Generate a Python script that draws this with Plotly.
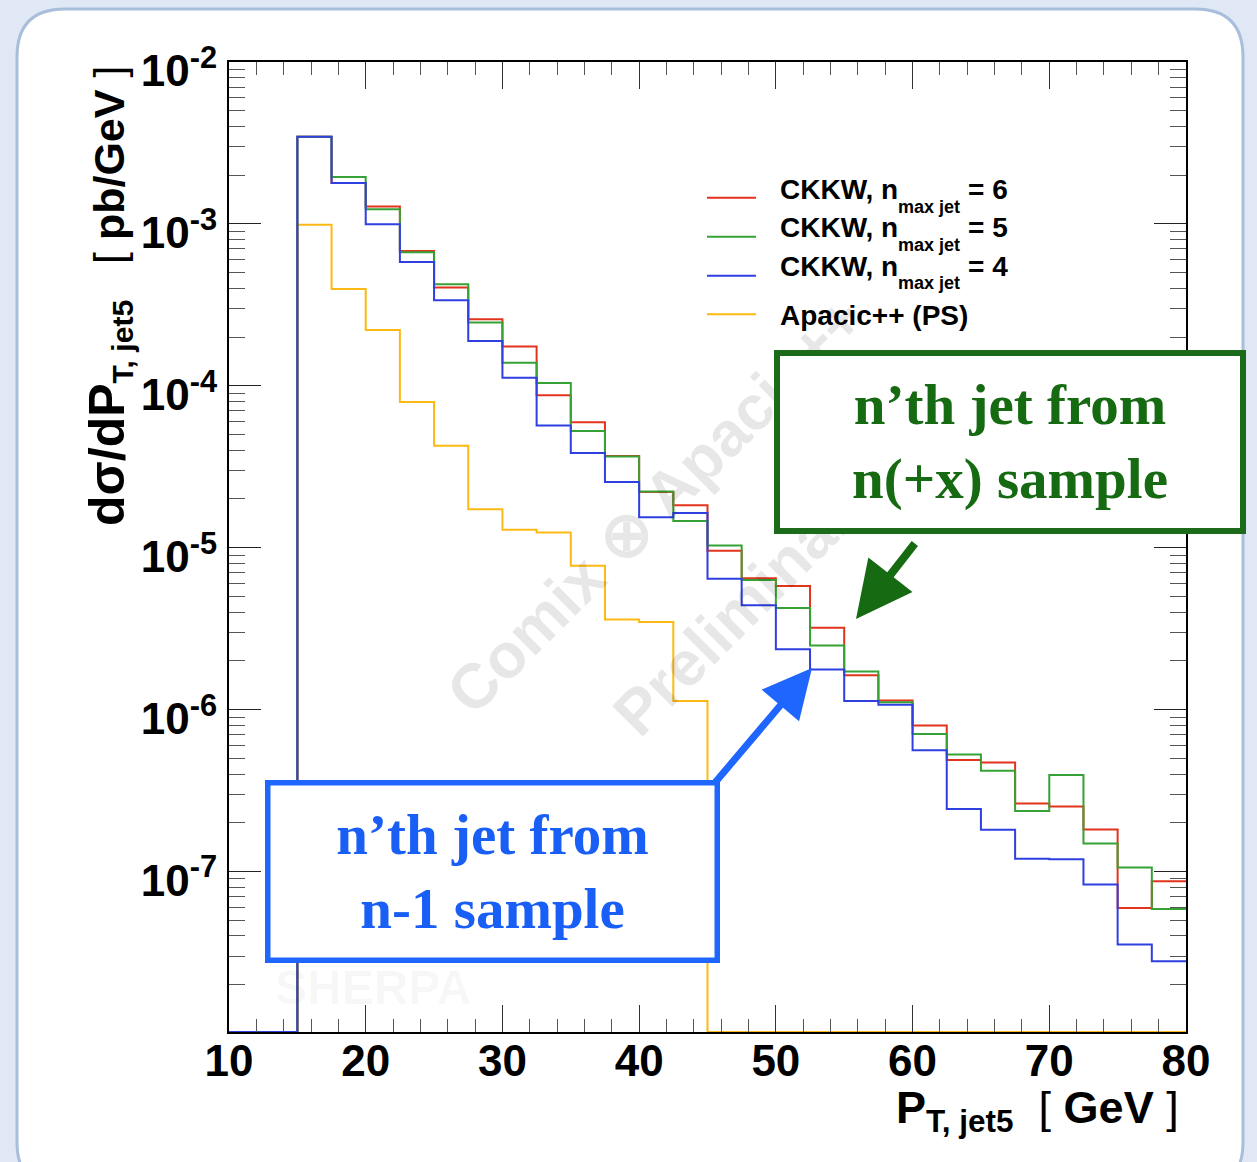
import math
import plotly.graph_objects as go

# ---------------- data ----------------
bin_lo = [10.0, 12.5, 15.0, 17.5, 20.0, 22.5, 25.0, 27.5, 30.0, 32.5, 35.0, 37.5, 40.0, 42.5,
          45.0, 47.5, 50.0, 52.5, 55.0, 57.5, 60.0, 62.5, 65.0, 67.5, 70.0, 72.5, 75.0, 77.5]
bin_hi_last = 80.0

ckkw6 = [0, 0, 3.45e-3, 1.79e-3, 1.28e-3, 6.80e-4, 4.05e-4, 2.58e-4, 1.75e-4, 8.73e-5, 5.95e-5,
         3.68e-5, 2.21e-5, 1.83e-5, 9.58e-6, 6.47e-6, 5.79e-6, 3.20e-6, 1.63e-6, 1.14e-6, 7.98e-7,
         4.88e-7, 4.72e-7, 2.63e-7, 2.52e-7, 1.82e-7, 5.96e-8, 8.71e-8]
ckkw5 = [0, 0, 3.45e-3, 1.95e-3, 1.23e-3, 6.68e-4, 4.24e-4, 2.46e-4, 1.39e-4, 1.04e-4, 5.25e-5,
         3.66e-5, 2.22e-5, 1.46e-5, 1.03e-5, 6.31e-6, 4.24e-6, 2.49e-6, 1.72e-6, 1.11e-6, 7.06e-7,
         5.28e-7, 4.19e-7, 2.36e-7, 3.94e-7, 1.49e-7, 1.06e-7, 5.87e-8]
ckkw4 = [0, 0, 3.45e-3, 1.79e-3, 9.94e-4, 5.82e-4, 3.38e-4, 1.89e-4, 1.12e-4, 5.69e-5, 3.85e-5,
         2.55e-5, 1.54e-5, 1.64e-5, 6.43e-6, 4.41e-6, 2.36e-6, 1.77e-6, 1.13e-6, 1.07e-6, 5.60e-7,
         2.43e-7, 1.81e-7, 1.20e-7, 1.19e-7, 8.32e-8, 3.54e-8, 2.79e-8]
apacic = [0, 0, 9.89e-4, 3.96e-4, 2.21e-4, 7.95e-5, 4.26e-5, 1.73e-5, 1.29e-5, 1.24e-5, 7.73e-6,
          3.60e-6, 3.48e-6, 1.13e-6, 0, 0, 0, 0, 0, 0, 0, 0, 0, 0, 0, 0, 0, 0]

x_ticks = [10, 20, 30, 40, 50, 60, 70, 80]
y_ticks = [1e-2, 1e-3, 1e-4, 1e-5, 1e-6, 1e-7]
y_tick_labels = ["10<sup>-2</sup>", "10<sup>-3</sup>", "10<sup>-4</sup>",
                 "10<sup>-5</sup>", "10<sup>-6</sup>", "10<sup>-7</sup>"]

RED, GREEN, BLUE, YELLOW = "#e2331d", "#36a236", "#2f3fe0", "#fdb913"
series = [
    ("Apacic++ (PS)", apacic, YELLOW),
    ("CKKW, n_max jet = 6", ckkw6, RED),
    ("CKKW, n_max jet = 5", ckkw5, GREEN),
    ("CKKW, n_max jet = 4", ckkw4, BLUE),
]
legend_rows = [("CKKW, n", "max jet", "= 6", RED),
               ("CKKW, n", "max jet", "= 5", GREEN),
               ("CKKW, n", "max jet", "= 4", BLUE),
               ("Apacic++ (PS)", None, None, YELLOW)]

YMIN = 1.02e-8
YMAX = 1e-2

# ---------------- geometry helpers ----------------
W, H = 1257, 1162
L, R, T, B = 229, 1186, 62, 1032


def px(xp):
    return (xp - L) / (R - L)


def py(yp):
    return (B - yp) / (B - T)


FONT = "Liberation Sans, Arial, Helvetica, sans-serif"
SERIF = "Liberation Serif, Times New Roman, serif"

fig = go.Figure()

for name, vals, col in series:
    xs = bin_lo + [bin_hi_last]
    ys = [v if v > 0 else YMIN for v in vals]
    ys = ys + [ys[-1]]
    fig.add_trace(go.Scatter(x=xs, y=ys, mode="lines", name=name,
                             line=dict(color=col, width=2, shape="hv"),
                             showlegend=False, hoverinfo="skip"))

minor_y = [m * 10 ** e for e in range(-9, -2) for m in range(2, 10)
           if YMIN <= m * 10 ** e <= YMAX]

fig.update_layout(
    width=W, height=H,
    margin=dict(l=L, r=W - R, t=T, b=H - B, pad=0),
    paper_bgcolor="#dfe8f4",
    plot_bgcolor="rgba(0,0,0,0)",
    font=dict(family=FONT, color="black"),
    xaxis=dict(range=[10, 80], showgrid=False, zeroline=False,
               showline=True, linecolor="black", linewidth=2, mirror="allticks",
               ticks="inside", ticklen=27, tickwidth=1, tickcolor="#333",
               tickmode="array", tickvals=x_ticks, ticktext=[str(v) for v in x_ticks],
               tickfont=dict(size=44, family=FONT, weight="bold"),
               ticklabelstandoff=-11,
               minor=dict(ticks="inside", ticklen=13, tickwidth=1, tickcolor="#555",
                          dtick=2, tick0=10, showgrid=False)),
    yaxis=dict(type="log", range=[math.log10(YMIN), math.log10(YMAX)],
               showgrid=False, zeroline=False,
               showline=True, linecolor="black", linewidth=2, mirror="allticks",
               ticks="inside", ticklen=32, tickwidth=1, tickcolor="#222",
               tickmode="array", tickvals=y_ticks, ticktext=y_tick_labels,
               tickfont=dict(size=44, family=FONT, weight="bold"),
               ticklabelstandoff=1, ticklabelshift=9,
               minor=dict(ticks="inside", ticklen=16, tickwidth=1, tickcolor="#555",
                          tickmode="array", tickvals=minor_y, showgrid=False)),
)

shapes = []
# rounded white panel
x0, y0, x1, y1, r = 17, 9, 1243, 1190, 48
path = (f"M {px(x0 + r)},{py(y0)} L {px(x1 - r)},{py(y0)} "
        f"Q {px(x1)},{py(y0)} {px(x1)},{py(y0 + r)} "
        f"L {px(x1)},{py(y1 - r)} Q {px(x1)},{py(y1)} {px(x1 - r)},{py(y1)} "
        f"L {px(x0 + r)},{py(y1)} Q {px(x0)},{py(y1)} {px(x0)},{py(y1 - r)} "
        f"L {px(x0)},{py(y0 + r)} Q {px(x0)},{py(y0)} {px(x0 + r)},{py(y0)} Z")
shapes.append(dict(type="path", path=path, xref="paper", yref="paper",
                   fillcolor="white", line=dict(color="#a9bedb", width=3), layer="below"))

annotations = []


def ann(xp, yp, text, size, **kw):
    d = dict(x=px(xp), y=py(yp), xref="paper", yref="paper", text=text,
             showarrow=False, xanchor="center", yanchor="middle")
    fam = kw.pop("family", FONT)
    col = kw.pop("color", "black")
    d["font"] = dict(size=size, family=fam, color=col)
    d.update(kw)
    annotations.append(d)


# watermarks
WM = "rgba(0,0,0,0.095)"
ann(655, 505, "<b>Comix ⊗ Apacic++</b>", 63, textangle=-45, color=WM)
ann(745, 603, "<b>Preliminary</b>", 63, textangle=-45, color=WM)
ann(373, 987, "<b>SHERPA</b>", 48, color="rgba(0,0,0,0.035)")

# legend (drawn manually)
line_ys = [197.7, 236.7, 275.7, 314.3]
text_ys = [190, 228, 266, 315]
for (main, sub, tail, col), yl, yt in zip(legend_rows, line_ys, text_ys):
    shapes.append(dict(type="line", xref="paper", yref="paper",
                       x0=px(707), x1=px(756), y0=py(yl), y1=py(yl),
                       line=dict(color=col, width=2)))
    ann(778, yt, f"<b>{main}</b>", 28, xanchor="left")
    if sub:
        ann(896, yt + 17, f"<b>{sub}</b>", 18, xanchor="left")
        ann(966, yt, f"<b>{tail}</b>", 28, xanchor="left")

# axis titles
ann(1181, 1110,
    "<b>P<sub>T, jet5</sub></b>&nbsp; <span style='font-weight:normal'>[</span>&nbsp;<b>GeV</b>&nbsp;<span style='font-weight:normal'>]</span>",
    45, xanchor="right")
ann(109, 64,
    "<b><span style='font-size:50px'>dσ/dP</span><sub>T, jet5</sub></b>&nbsp;&nbsp; <span style='font-weight:normal'>[</span>&nbsp;<b>pb/GeV</b>&nbsp;<span style='font-weight:normal'>]</span>",
    43, textangle=-90, yanchor="top")

# green box (annotation box so it covers the watermark)
ann(1010, 442.2, "<b>n’th jet from<br>n(+x) sample</b>", 57, family=SERIF, color="#156a12",
    width=460, height=172, borderpad=0,
    bgcolor="white", bordercolor="#1b6b1b", borderwidth=6, align="center", valign="middle")
annotations.append(dict(x=px(856), y=py(619), xref="paper", yref="paper",
                        ax=916 - 856, ay=542 - 619, axref="pixel", ayref="pixel",
                        text="", showarrow=True, arrowhead=2, arrowsize=1.4,
                        arrowwidth=8, arrowcolor="#156a12", standoff=0))

# blue box
ann(492.3, 871, "<b>n’th jet from<br>n-1 sample</b>", 57, family=SERIF, color="#1a5ff5",
    width=444, height=172, borderpad=0,
    bgcolor="white", bordercolor="#1f66ff", borderwidth=5.5, align="center", valign="middle")
annotations.append(dict(x=px(812), y=py(668), xref="paper", yref="paper",
                        ax=713 - 812, ay=785 - 668, axref="pixel", ayref="pixel",
                        text="", showarrow=True, arrowhead=2, arrowsize=1.4,
                        arrowwidth=7, arrowcolor="#1f66ff", standoff=0))

fig.update_layout(shapes=shapes, annotations=annotations)
fig.write_html("out.html", config={"displayModeBar": False},
               post_script="document.body.style.margin='0';document.body.style.background='#dfe8f4';")
